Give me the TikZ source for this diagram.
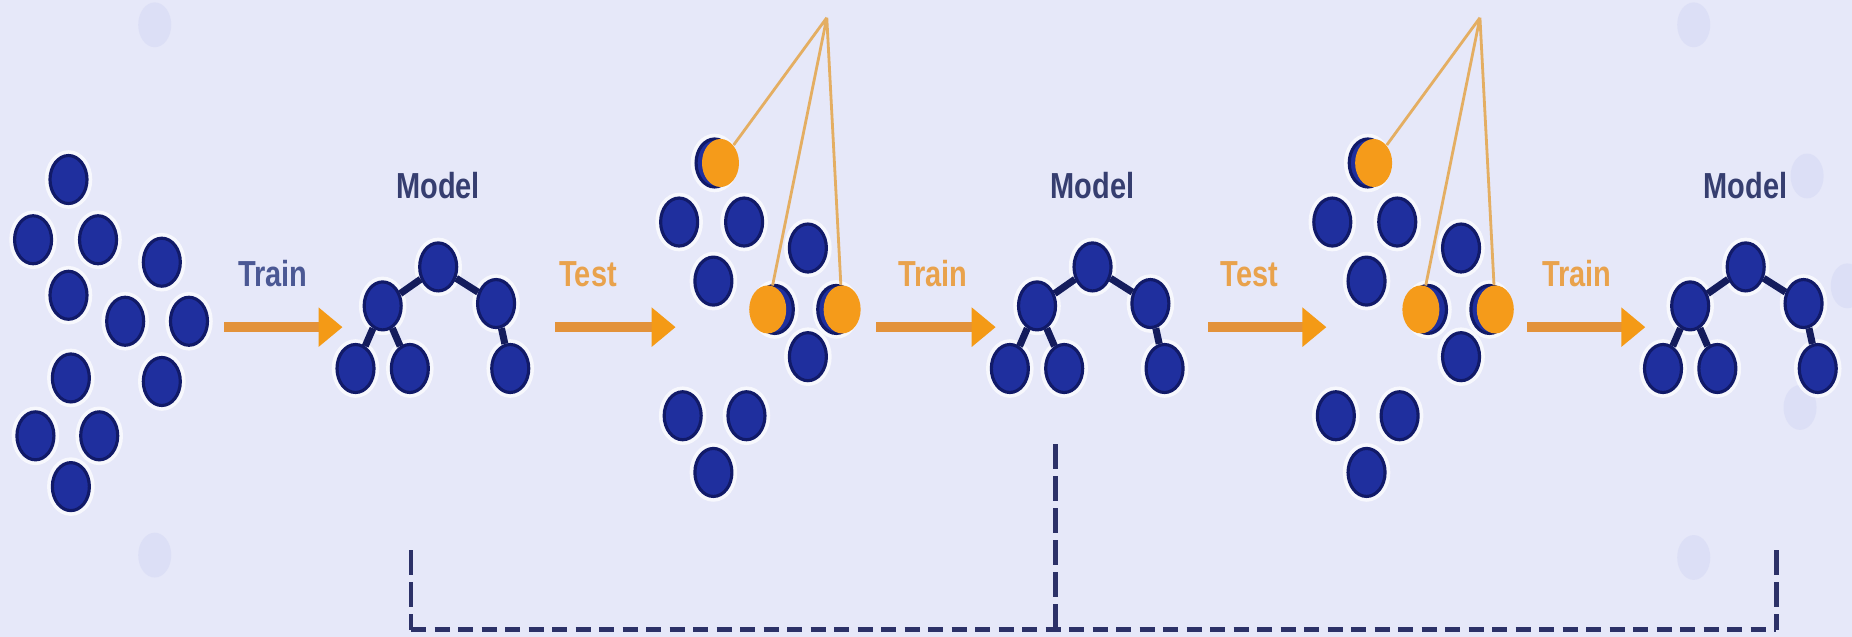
\documentclass[tikz,border=0pt]{standalone}
\usepackage{fontspec}
\setsansfont{Liberation Sans}[FakeStretch=0.8]
\usetikzlibrary{shapes.geometric,arrows.meta,positioning}

\definecolor{bgside}{HTML}{E6E8F9}
\definecolor{bgmid}{HTML}{F1F2FC}
\definecolor{blob}{HTML}{D9DCF5}
\definecolor{dotblue}{HTML}{1F2F9E}
\definecolor{dotedge}{HTML}{111A68}
\definecolor{treeline}{HTML}{141C5C}
\definecolor{hitorange}{HTML}{F59B1A}
\definecolor{flowshaft}{HTML}{E3923A}
\definecolor{flowhead}{HTML}{F49A16}
\definecolor{txtnavy}{HTML}{363E70}
\definecolor{txtblue}{HTML}{4B5894}
\definecolor{txtorange}{HTML}{E9A24C}
\definecolor{pickline}{HTML}{E4AE62}
\definecolor{dashnavy}{HTML}{2C3168}

\begin{document}
\begin{tikzpicture}[x=0.01181cm, y=-0.01181cm,
  dot/.style={ellipse, fill=dotblue, draw=dotedge, line width=0.9pt,
    minimum width=0.37cm, minimum height=0.48cm, inner sep=0pt,
    preaction={draw=white, line width=3pt, opacity=0.7}},
  hit/.style={ellipse, fill=hitorange, minimum width=0.37cm, minimum height=0.48cm, inner sep=0pt},
  branch/.style={draw=treeline, line width=2pt},
  flow/.style={draw=flowshaft, line width=3pt, -{Triangle[length=0.24cm, width=0.38cm, color=flowhead]}},
  lbl/.style={font=\sffamily\bfseries\fontsize{10.3}{12}\selectfont, inner sep=0pt},
  pick/.style={draw=pickline, line width=0.8pt},
  drop/.style={draw=dashnavy, line width=1.4pt, dash pattern=on 0.25cm off 0.07cm},
  base/.style={draw=dashnavy, line width=1.5pt, dash pattern=on 0.15cm off 0.085cm}]

\useasboundingbox (0,0) rectangle (1568,539);
\clip (0,0) rectangle (1568,539);
\shade[left color=bgside, middle color=bgmid, right color=bgside] (0,0) rectangle (1568,539);
\foreach \x/\y in {131/21, 1434/21, 1530/149, 1564/242, 1524/345, 131/470, 1434/472}
  \fill[blob, opacity=0.7] (\x,\y) ellipse (14 and 19);

% data set
\foreach \x/\y [count=\k] in {58/152, 28/203, 83/203, 137/222, 58/250, 106/272,
    160/272, 60/320, 137/323, 30/369, 84/369, 60/412}
  \node[dot] (d-\k) at (\x,\y) {};

% train / test steps
\foreach \n/\s/\e/\lx/\txt/\col in {1/190/290/201/Train/txtblue, 2/470/572/473/Test/txtorange,
    3/742/843/760/Train/txtorange, 4/1023/1123/1033/Test/txtorange, 5/1293/1393/1305/Train/txtorange} {
  \coordinate (f\n-s) at (\s,277);
  \coordinate (f\n-e) at (\e,277);
  \draw[flow] (f\n-s) -- (f\n-e);
  \node[lbl, text=\col, anchor=west] (f\n-lbl) at (\lx,232) {\txt};
}

% models
\foreach \i/\x in {1/371, 2/925, 3/1478} {
  \node[dot] (t\i) at (\x,226) {};
  \node[dot] (t\i-l) at (\x-47,259) {};
  \node[dot] (t\i-r) at (\x+49,257) {};
  \node[dot] (t\i-ll) at (\x-70,312) {};
  \node[dot] (t\i-lr) at (\x-24,312) {};
  \node[dot] (t\i-rr) at (\x+61,312) {};
  \draw[branch] (t\i) -- (t\i-l) (t\i) -- (t\i-r)
    (t\i-l) -- (t\i-ll) (t\i-l) -- (t\i-lr) (t\i-r) -- (t\i-rr);
  \node[lbl, text=txtnavy, above=0.42cm of t\i] (m\i) {Model};
}

% test sets
\foreach \i/\dx in {1/0, 2/553} {
  \begin{scope}[shift={(\dx,0)}]
    \foreach \x/\y [count=\k] in {575/188, 630/188, 684/210, 604/238, 684/302,
        578/352, 632/352, 604/400}
      \node[dot] (s\i-\k) at (\x,\y) {};
    \node[dot] (s\i-b1) at (605,138) {};
    \node[hit] (s\i-o1) at (610,138) {};
    \node[dot] (s\i-b2) at (656,262) {};
    \node[hit] (s\i-o2) at (650,262) {};
    \node[dot] (s\i-b3) at (708,262) {};
    \node[hit] (s\i-o3) at (713,262) {};
    \coordinate (s\i-top) at (700,15);
    \draw[pick] (s\i-top) -- (s\i-o1) (s\i-top) -- (s\i-o2) (s\i-top) -- (s\i-o3);
  \end{scope}
}

% comparison
\coordinate (c1) at (348,466);
\coordinate (c2) at (894,376);
\coordinate (c3) at (1504,466);
\coordinate (cb) at (894,533);
\draw[drop] (c1) -- (c1 |- cb);
\draw[drop] (c2) -- (cb);
\draw[drop] (c3) -- (c3 |- cb);
\draw[base] (c1 |- cb) -- (c3 |- cb);
\end{tikzpicture}
\end{document}
